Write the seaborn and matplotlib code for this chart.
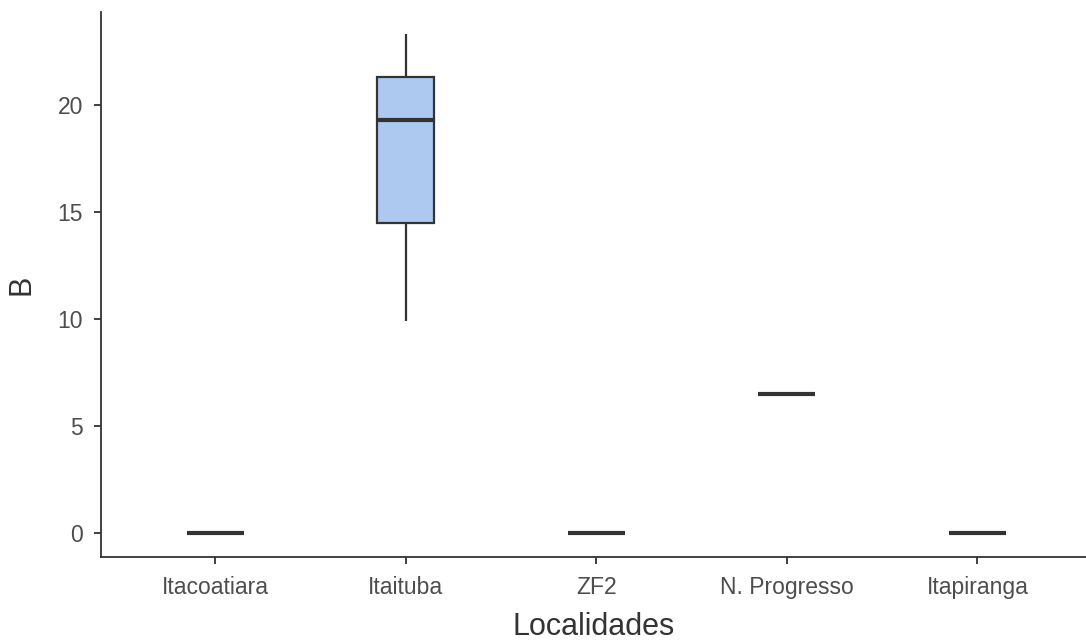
import matplotlib
matplotlib.use("Agg")
import matplotlib.pyplot as plt
import seaborn as sns
import pandas as pd

categories = ["Itacoatiara", "Itaituba", "ZF2", "N. Progresso", "Itapiranga"]
itacoatiara = [0.0, 0.0, 0.0]
itaituba = [9.9, 14.5, 19.3, 21.3, 23.3]
zf2 = [0.0, 0.0, 0.0]
n_progresso = [6.5, 6.5, 6.5]
itapiranga = [0.0, 0.0, 0.0]
yticks = [0, 5, 10, 15, 20]

series = [itacoatiara, itaituba, zf2, n_progresso, itapiranga]
rows = []
for cat, vals in zip(categories, series):
    for v in vals:
        rows.append({"Localidades": cat, "B": v})
df = pd.DataFrame(rows)

sns.set_style("ticks")
plt.rcParams["font.family"] = ["Liberation Sans", "DejaVu Sans"]

fig = plt.figure(figsize=(10.86, 6.44), dpi=100)
ax = fig.add_axes([101 / 1086, 87 / 644, 1 - 101 / 1086, (557 - 12) / 644])

line_col = "#333333"
sns.boxplot(data=df, x="Localidades", y="B", order=categories, ax=ax,
            color="#AEC9F0", saturation=1, width=0.3, whis=1.5,
            linecolor=line_col, linewidth=1.6, showfliers=False,
            medianprops={"linewidth": 3.0, "color": line_col},
            boxprops={"edgecolor": line_col},
            whiskerprops={"color": line_col}, capprops={"linewidth": 0})

ax.set_xlim(-0.6, 4.57)
ax.set_ylim(-1.12, 24.35)
ax.set_yticks(yticks)
ax.set_yticklabels([str(t) for t in yticks])

for s in ["top", "right"]:
    ax.spines[s].set_visible(False)
for s in ["left", "bottom"]:
    ax.spines[s].set_color(line_col)
    ax.spines[s].set_linewidth(1.3)

ax.tick_params(axis="both", colors=line_col, length=5, width=1.3,
               labelsize=16.5, labelcolor="#4D4D4D")
ax.tick_params(axis="y", pad=8)
ax.tick_params(axis="x", pad=9)
ax.set_xlabel("Localidades", fontsize=22, color="#333333", labelpad=9)
ax.set_ylabel("B", fontsize=22, color="#333333", labelpad=15)

fig.savefig("out.png", dpi=100)
